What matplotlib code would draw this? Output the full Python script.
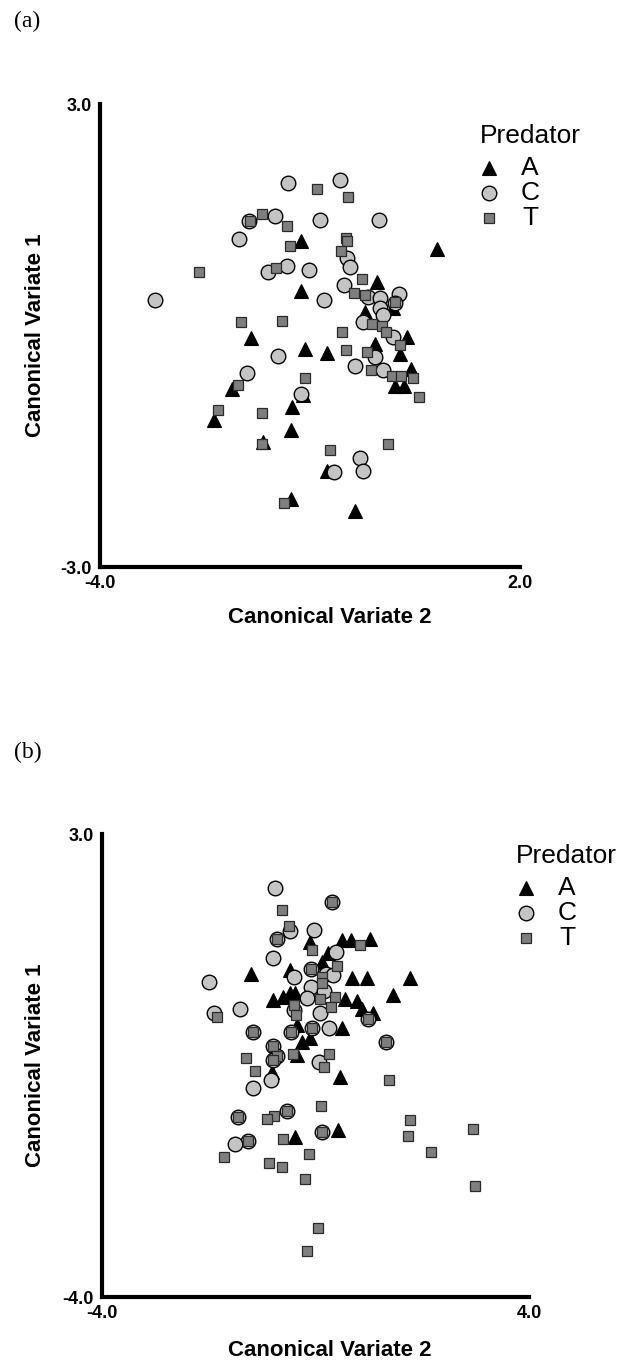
import matplotlib
matplotlib.use("Agg")
import matplotlib.pyplot as plt
from matplotlib.lines import Line2D
from matplotlib import font_manager

# panel (a) data: canonical variate 2 (x) vs canonical variate 1 (y)
a_A_x = [-1.13, 0.82, -1.13, -0.04, -0.21, 0.19, -1.84, 0.39, -1.07, -0.75, -0.07, 0.28,
         0.44, 0.22, 0.34, -2.12, -2.37, -1.26, -1.27, -1.67, -1.10, -0.76, -1.27, -0.35]
a_A_y = [1.23, 1.12, 0.58, 0.69, 0.31, 0.36, -0.03, -0.02, -0.18, -0.23, -0.11, -0.24,
         -0.43, -0.65, -0.65, -0.69, -1.09, -0.93, -1.22, -1.38, -0.77, -1.76, -2.12, -2.27]

a_C_x = [-1.31, -0.57, -1.87, -1.50, -0.85, -0.01, -2.01, -1.60, -1.33, -1.01, -0.47, -0.43,
         -3.21, -0.80, -0.51, -0.17, 0.00, 0.27, 0.22, 0.00, 0.05, -0.24, 0.19, -1.46,
         -1.90, -0.36, -0.07, 0.05, -1.13, -0.29, -0.24, -0.66]
a_C_y = [1.97, 2.02, 1.48, 1.55, 1.50, 1.50, 1.25, 0.82, 0.90, 0.85, 1.01, 0.89,
         0.46, 0.46, 0.65, 0.50, 0.49, 0.54, 0.42, 0.35, 0.27, 0.18, -0.02, -0.26,
         -0.49, -0.40, -0.28, -0.45, -0.76, -1.59, -1.75, -1.77]

a_T_x = [-0.90, -0.45, -1.68, -1.86, -1.33, -0.49, -0.47, -1.28, -0.56, -1.48, -2.59, -0.25,
         -0.37, -0.22, 0.21, -1.99, -1.40, -0.54, -0.12, 0.03, 0.09, 0.28, -0.48, -0.18,
         -0.13, 0.17, 0.30, 0.47, 0.56, -1.07, -2.03, -2.32, -1.68, -1.68, -0.71, 0.12, -1.37]
a_T_y = [1.90, 1.79, 1.58, 1.49, 1.42, 1.26, 1.23, 1.16, 1.09, 0.87, 0.82, 0.73,
         0.55, 0.52, 0.44, 0.17, 0.19, 0.05, 0.15, 0.12, 0.05, -0.12, -0.19, -0.22,
         -0.45, -0.52, -0.52, -0.55, -0.80, -0.55, -0.64, -0.97, -1.00, -1.40, -1.48, -1.41, -2.17]

# panel (b) data
b_A_x = [-1.21, -0.10, 0.49, 0.66, 1.02, 0.24, 0.12, -0.48, 0.69, 0.97, 1.77, 1.46, -0.79,
         -0.60, -0.48, -0.38, 0.55, 0.77, 0.87, 1.08, 0.49, -0.35, -0.26, -0.10, -0.34,
         0.46, -0.38, 0.43, -0.82]
b_A_y = [0.88, 1.36, 1.40, 1.40, 1.41, 1.20, 1.07, 0.95, 0.82, 0.82, 0.83, 0.57, 0.49,
         0.53, 0.60, 0.60, 0.51, 0.48, 0.35, 0.29, 0.07, 0.11, -0.14, -0.09, -0.34,
         -0.67, -1.58, -1.48, -0.60]

b_C_x = [-0.75, 0.31, -0.48, -0.02, -0.73, 0.39, -0.79, -1.99, -0.40, -0.09, 0.19, 0.33,
         -0.08, 0.15, -1.41, -1.91, -0.15, 0.08, -0.40, 0.99, 0.26, -0.07, -0.45, -1.18,
         1.33, -0.79, -0.72, -0.80, 0.07, -0.84, -1.17, -1.45, -0.53, 0.12, -1.26, -1.50]
b_C_y = [2.18, 1.97, 1.54, 1.55, 1.41, 1.22, 1.12, 0.76, 0.84, 0.96, 0.88, 0.87,
         0.69, 0.62, 0.35, 0.29, 0.52, 0.29, 0.34, 0.20, 0.06, 0.06, 0.00, 0.00,
         -0.14, -0.20, -0.35, -0.41, -0.45, -0.72, -0.84, -1.28, -1.19, -1.50, -1.64, -1.69]

b_T_x = [-0.62, 0.31, -0.49, -0.73, 0.83, -0.07, 0.40, -0.09, 0.13, 0.13, -0.40, 0.09,
         0.37, 0.29, -0.37, -1.85, 0.99, -1.18, -0.45, -0.07, 1.33, -0.79, -0.72, -0.80,
         -1.31, -0.43, 0.25, 0.16, -1.13, 1.38, 0.10, -0.78, -0.90, 1.77, 1.74, 2.95,
         -0.61, -0.13, 2.16, -1.71, -0.88, -0.63, -0.20, 2.98, 0.05, -0.16,
         -1.45, -0.53, 0.12, -1.26]
b_T_y = [1.85, 1.97, 1.61, 1.41, 1.32, 1.24, 1.00, 0.96, 0.84, 0.74, 0.41, 0.50,
         0.54, 0.38, 0.26, 0.24, 0.20, 0.00, 0.00, 0.06, -0.14, -0.20, -0.35, -0.41,
         -0.38, -0.33, -0.32, -0.53, -0.59, -0.72, -1.11, -1.26, -1.31, -1.32, -1.56, -1.46,
         -1.61, -1.84, -1.81, -1.89, -1.98, -2.03, -2.22, -2.32, -2.95, -3.30,
         -1.28, -1.19, -1.50, -1.64]

groups = ["A", "C", "T"]

names = {f.name for f in font_manager.fontManager.ttflist}
narrow = "Liberation Sans Narrow" if "Liberation Sans Narrow" in names else "Liberation Sans"
bold_font = "Liberation Sans"

W, H = 619, 1364
fig = plt.figure(figsize=(W / 100, H / 100), dpi=100)

styles = {
    "A": dict(marker="^", ms=9.5, mfc="black", mec="black", mew=0.8),
    "C": dict(marker="o", ms=10.5, mfc="#c4c4c4", mec="black", mew=1.0),
    "T": dict(marker="s", ms=7.8, mfc="#7f7f7f", mec="#2a2a2a", mew=0.9),
}


def px(x, y):
    return x / W, 1 - y / H


def panel(rect, data, xlim, ylim, tag, tag_y, xlab_y, legend):
    ax = fig.add_axes(rect)
    for g in groups:
        xs, ys = data[g]
        ax.plot(xs, ys, ls="none", clip_on=False, **styles[g])
    ax.set_xlim(*xlim)
    ax.set_ylim(*ylim)
    for s in ["top", "right"]:
        ax.spines[s].set_visible(False)
    for s in ["left", "bottom"]:
        ax.spines[s].set_linewidth(3)
    ax.set_xticks(list(xlim))
    ax.set_yticks(list(ylim))
    ax.set_xticklabels(["%.1f" % v for v in xlim])
    ax.set_yticklabels(["%.1f" % v for v in ylim])
    ax.tick_params(length=0, labelsize=13, pad=6)
    for lab in ax.get_xticklabels() + ax.get_yticklabels():
        lab.set_fontweight("bold")
        lab.set_family(bold_font)
    ax.set_ylabel("Canonical Variate 1", fontsize=16, fontweight="bold",
                  family=bold_font, labelpad=0)
    ax.yaxis.set_label_coords((46 / W - rect[0]) / rect[2], 0.5)
    fig.text(*px(330, xlab_y), "Canonical Variate 2", fontsize=16, fontweight="bold",
             family=bold_font, ha="center", va="center")
    fig.text(*px(14, tag_y), tag, fontsize=17, family="Liberation Serif",
             ha="left", va="center")
    # legend
    lx, ly, mx, tx, rows = legend
    fig.text(*px(lx, ly), "Predator", fontsize=19, family=narrow, ha="left", va="center")
    for g, ry in zip(groups, rows):
        fig.add_artist(Line2D([mx / W], [1 - ry / H], transform=fig.transFigure,
                              ls="none", **styles[g]))
        fig.text(*px(tx, ry), g, fontsize=19, family=narrow, ha="center", va="center")
    return ax


panel([100 / W, 1 - 567 / H, 420 / W, 463 / H],
      {"A": (a_A_x, a_A_y), "C": (a_C_x, a_C_y), "T": (a_T_x, a_T_y)},
      (-4.0, 2.0), (-3.0, 3.0), "(a)", 21, 617,
      (480, 136, 489, 530, [168, 193, 218]))

panel([102 / W, 1 - 1297 / H, 427 / W, 463 / H],
      {"A": (b_A_x, b_A_y), "C": (b_C_x, b_C_y), "T": (b_T_x, b_T_y)},
      (-4.0, 4.0), (-4.0, 3.0), "(b)", 752, 1350,
      (516, 856, 526, 567, [888, 913, 938]))

fig.savefig("out.png", dpi=100)
